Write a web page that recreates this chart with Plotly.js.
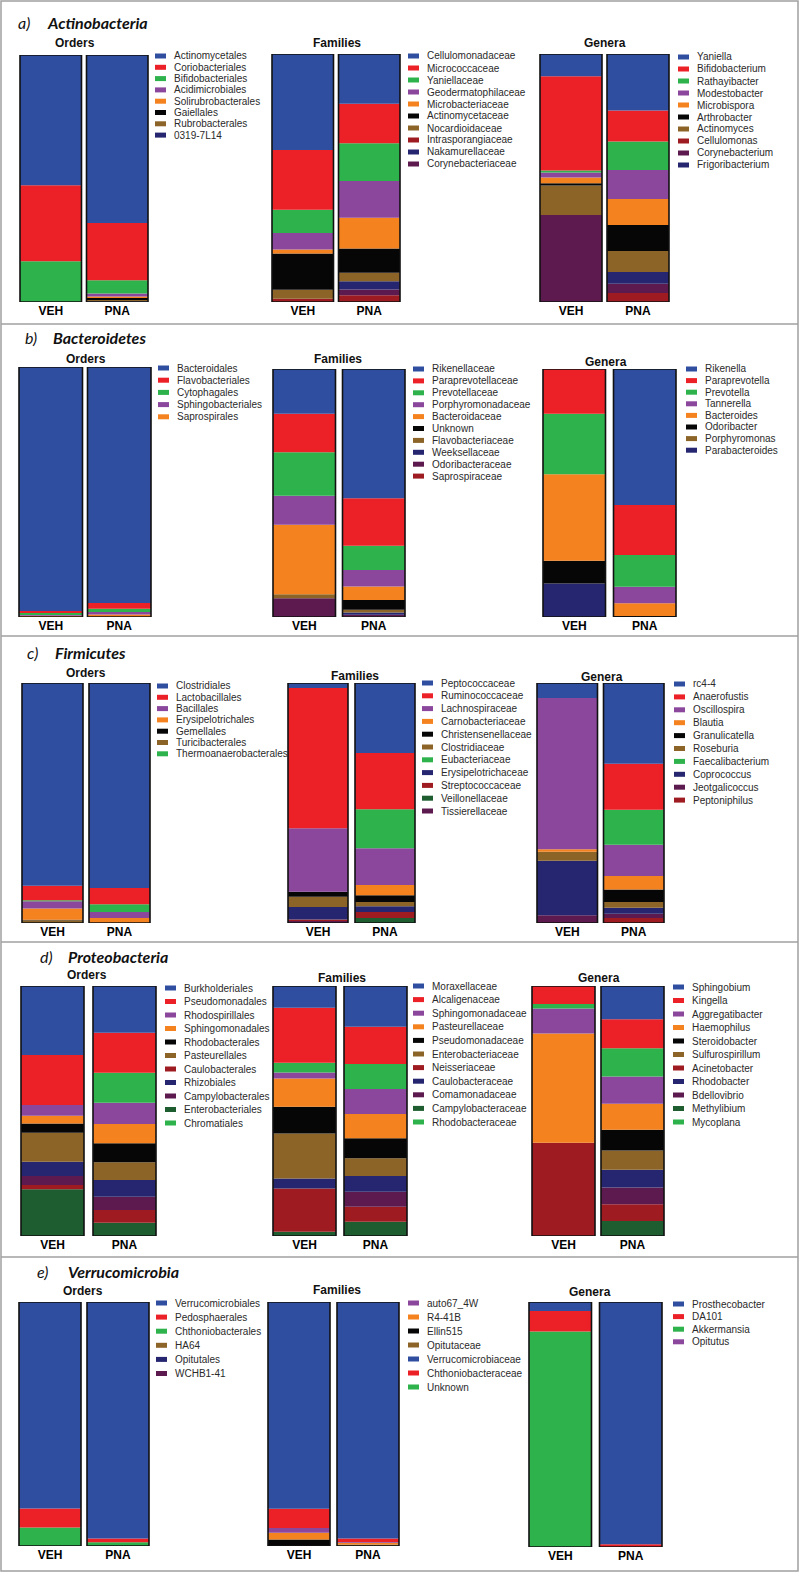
<!DOCTYPE html>
<html><head><meta charset="utf-8">
<script src="https://cdn.plot.ly/plotly-3.0.1.min.js"></script>
<style>html,body{margin:0;padding:0;background:#fff}#chart{width:800px;height:1572px}</style>
</head><body><div id="chart"></div>
<script>
const W = 800, H = 1572;
const groups = ['VEH', 'PNA'];
const BL='#2F4E9F', RD='#EC2027', GR='#2EB24B', PU='#8A479B', OR='#F4821F', BK='#060606',
      BR='#8C6428', DR='#9E1C21', NV='#25266F', PL='#5C1A4E', DG='#1D5D2F';

// ---------- a) Actinobacteria ----------
const aOrdNames = ['Actinomycetales','Coriobacteriales','Bifidobacteriales','Acidimicrobiales','Solirubrobacterales','Gaiellales','Rubrobacterales','0319-7L14'];
const aOrdVEH = [52.7,30.8,16.5,0,0,0,0,0];
const aOrdPNA = [68.0,23.2,5.4,1.2,0.6,0.8,0.5,0.3];
const aOrdColors = [BL,RD,GR,PU,OR,BK,BR,NV];

const aFamNames = ['Cellulomonadaceae','Micrococcaceae','Yaniellaceae','Geodermatophilaceae','Microbacteriaceae','Actinomycetaceae','Nocardioidaceae','Intrasporangiaceae','Nakamurellaceae','Corynebacteriaceae'];
const aFamVEH = [38.7,24.0,9.4,6.7,1.6,14.6,3.6,1.3,0,0];
const aFamPNA = [20.1,15.9,15.2,14.8,12.4,9.8,3.4,2.7,3.4,2.3];
const aFamColors = [BL,RD,GR,PU,OR,BK,BR,DR,NV,PL];
const aFamOrder = [0,1,2,3,4,5,6,8,9,7];

const aGenNames = ['Yaniella','Bifidobacterium','Rathayibacter','Modestobacter','Microbispora','Arthrobacter','Actinomyces','Cellulomonas','Corynebacterium','Frigoribacterium'];
const aGenVEH = [9.0,38.0,0.8,2.0,2.3,0.9,11.9,0,35.1,0];
const aGenPNA = [22.8,12.5,11.5,11.7,10.5,10.4,8.5,3.6,3.8,4.7];
const aGenColors = [BL,RD,GR,PU,OR,BK,BR,DR,PL,NV];
const aGenOrder = [0,1,2,3,4,5,6,9,8,7];

// ---------- b) Bacteroidetes ----------
const bOrdNames = ['Bacteroidales','Flavobacteriales','Cytophagales','Sphingobacteriales','Saprospirales'];
const bOrdVEH = [97.6,0.8,0.8,0.3,0.5];
const bOrdPNA = [94.4,2.3,1.3,1.0,1.0];
const bOrdColors = [BL,RD,GR,PU,OR];

const bFamNames = ['Rikenellaceae','Paraprevotellaceae','Prevotellaceae','Porphyromonadaceae','Bacteroidaceae','Unknown','Flavobacteriaceae','Weeksellaceae','Odoribacteraceae','Saprospiraceae'];
const bFamVEH = [18.0,15.6,17.5,11.7,28.0,0,1.6,0,7.6,0];
const bFamPNA = [52.1,19.2,9.7,6.7,5.4,4.0,1.1,0.9,0.8,0.1];
const bFamColors = [BL,RD,GR,PU,OR,BK,BR,NV,PL,DR];

const bGenNames = ['Rikenella','Paraprevotella','Prevotella','Tannerella','Bacteroides','Odoribacter','Porphyromonas','Parabacteroides'];
const bGenVEH = [0,18.0,24.4,0,34.9,9.2,0,13.5];
const bGenPNA = [54.8,20.2,12.8,6.7,5.1,0.4,0,0];
const bGenColors = [BL,RD,GR,PU,OR,BK,BR,NV];

// ---------- c) Firmicutes ----------
const cOrdNames = ['Clostridiales','Lactobacillales','Bacillales','Erysipelotrichales','Gemellales','Turicibacterales','Thermoanaerobacterales'];
const cOrdVEH = [84.5,6.0,3.1,4.6,0.3,1.1,0.4];
const cOrdPNA = [85.4,6.8,2.5,2.1,0,0,3.2];
const cOrdColors = [BL,RD,PU,OR,BK,BR,GR];
const cOrdOrder = [0,1,6,2,3,4,5];

const cFamNames = ['Peptococcaceae','Ruminococcaceae','Lachnospiraceae','Carnobacteriaceae','Christensenellaceae','Clostridiaceae','Eubacteriaceae','Erysipelotrichaceae','Streptococcaceae','Veillonellaceae','Tissierellaceae'];
const cFamVEH = [2.1,58.5,26.5,0,2.1,4.2,0,5.2,0.7,0,0.8];
const cFamPNA = [29.2,23.4,15.3,4.2,2.8,1.8,16.3,2.4,2.5,2.1,0];
const cFamColors = [BL,RD,PU,OR,BK,BR,GR,NV,DR,DG,PL];
const cFamOrder = [0,1,6,2,3,4,5,7,8,9,10];

const cGenNames = ['rc4-4','Anaerofustis','Oscillospira','Blautia','Granulicatella','Roseburia','Faecalibacterium','Coprococcus','Jeotgalicoccus','Peptoniphilus'];
const cGenVEH = [6.2,0,63.1,1.0,0,3.8,0,22.7,3.2,0];
const cGenPNA = [33.7,19.2,13.0,5.6,5.2,2.4,14.6,2.5,1.8,2.1];
const cGenColors = [BL,RD,PU,OR,BK,BR,GR,NV,PL,DR];
const cGenOrder = [0,1,6,2,3,4,5,7,8,9];

// ---------- d) Proteobacteria ----------
const dOrdNames = ['Burkholderiales','Pseudomonadales','Rhodospirillales','Sphingomonadales','Rhodobacterales','Pasteurellales','Caulobacterales','Rhizobiales','Campylobacterales','Enterobacteriales','Chromatiales'];
const dOrdVEH = [27.6,20.0,4.3,3.1,3.7,11.6,1.7,5.7,3.6,18.7,0];
const dOrdPNA = [18.7,16.0,8.5,7.7,7.6,7.1,5.1,6.7,5.3,5.3,12.0];
const dOrdColors = [BL,RD,PU,OR,BK,BR,DR,NV,PL,DG,GR];
const dOrdOrder = [0,1,10,2,3,4,5,7,8,6,9];

const dFamNames = ['Moraxellaceae','Alcaligenaceae','Sphingomonadaceae','Pasteurellaceae','Pseudomonadaceae','Enterobacteriaceae','Neisseriaceae','Caulobacteraceae','Comamonadaceae','Campylobacteraceae','Rhodobacteraceae'];
const dFamVEH = [8.7,22.0,2.4,11.3,10.7,18.0,17.3,4.0,0,1.7,3.9];
const dFamPNA = [16.3,14.9,10.0,9.7,8.0,7.1,6.0,6.3,6.0,5.7,10.0];
const dFamColors = [BL,RD,PU,OR,BK,BR,DR,NV,PL,DG,GR];
const dFamOrder = [0,1,10,2,3,4,5,7,8,6,9];

const dGenNames = ['Sphingobium','Kingella','Aggregatibacter','Haemophilus','Steroidobacter','Sulfurospirillum','Acinetobacter','Rhodobacter','Bdellovibrio','Methylibium','Mycoplana'];
const dGenVEH = [0,7.2,10.0,43.7,0,0,37.3,0,0,0,1.8];
const dGenPNA = [13.3,11.6,10.9,10.4,8.3,7.7,6.7,7.1,6.7,6.0,11.3];
const dGenColors = [BL,RD,PU,OR,BK,BR,DR,NV,PL,DG,GR];
const dGenOrder = [0,1,10,2,3,4,5,7,8,6,9];

// ---------- e) Verrucomicrobia ----------
const eOrdNames = ['Verrucomicrobiales','Pedosphaerales','Chthoniobacterales','HA64','Opitutales','WCHB1-41'];
const eOrdVEH = [84.6,7.8,7.6,0,0,0];
const eOrdPNA = [96.9,1.6,1.5,0,0,0];
const eOrdColors = [BL,RD,GR,BR,NV,PL];

const eFamNames = ['auto67_4W','R4-41B','Ellin515','Opitutaceae','Verrucomicrobiaceae','Chthoniobacteraceae','Unknown'];
const eFamVEH = [2.0,2.7,2.7,0,84.6,7.9,0];
const eFamPNA = [0.3,0.7,0,0.6,96.9,1.5,0];
const eFamColors = [PU,OR,BK,BR,BL,RD,GR];
const eFamOrder = [4,5,0,1,2,3,6];

const eGenNames = ['Prosthecobacter','DA101','Akkermansia','Opitutus'];
const eGenVEH = [3.7,8.3,88.0,0];
const eGenPNA = [98.9,1.1,0,0];
const eGenColors = [BL,RD,GR,PU];

// ---------- layout (pixel positions) ----------
const PANELS = [
  {tag:'a)', name:'Actinobacteria', tx:18, nx:47, y:22},
  {tag:'b)', name:'Bacteroidetes', tx:25, nx:53, y:337},
  {tag:'c)', name:'Firmicutes', tx:27, nx:55, y:652},
  {tag:'d)', name:'Proteobacteria', tx:40, nx:68, y:956},
  {tag:'e)', name:'Verrucomicrobia', tx:37, nx:68, y:1271}
];
const SEPARATORS = [324, 636, 942, 1257];

const SUBS = [
 {n:aOrdNames,c:aOrdColors,v:aOrdVEH,p:aOrdPNA,o:null,     t:'Orders',  tx:75, ty:43, xL:20, xR:148,g:5, top:55, bot:302, lx:155,ly:56, dy:11.3},
 {n:aFamNames,c:aFamColors,v:aFamVEH,p:aFamPNA,o:aFamOrder,t:'Families',tx:337,ty:43, xL:272,xR:400,g:5, top:54, bot:302, lx:408,ly:56, dy:12},
 {n:aGenNames,c:aGenColors,v:aGenVEH,p:aGenPNA,o:aGenOrder,t:'Genera',  tx:605,ty:43, xL:540,xR:669,g:5, top:54, bot:302, lx:678,ly:57, dy:12},
 {n:bOrdNames,c:bOrdColors,v:bOrdVEH,p:bOrdPNA,o:null,     t:'Orders',  tx:86, ty:359,xL:19, xR:151,g:5, top:367,bot:617, lx:158,ly:368,dy:12.2},
 {n:bFamNames,c:bFamColors,v:bFamVEH,p:bFamPNA,o:null,     t:'Families',tx:338,ty:359,xL:273,xR:405,g:7, top:369,bot:617, lx:413,ly:369,dy:11.9},
 {n:bGenNames,c:bGenColors,v:bGenVEH,p:bGenPNA,o:null,     t:'Genera',  tx:606,ty:362,xL:543,xR:676,g:8, top:369,bot:617, lx:686,ly:369,dy:11.6},
 {n:cOrdNames,c:cOrdColors,v:cOrdVEH,p:cOrdPNA,o:cOrdOrder,t:'Orders',  tx:86, ty:673,xL:22, xR:150,g:6, top:683,bot:923, lx:157,ly:686,dy:11.3},
 {n:cFamNames,c:cFamColors,v:cFamVEH,p:cFamPNA,o:cFamOrder,t:'Families',tx:355,ty:676,xL:288,xR:415,g:7, top:683,bot:923, lx:422,ly:683,dy:12.8},
 {n:cGenNames,c:cGenColors,v:cGenVEH,p:cGenPNA,o:cGenOrder,t:'Genera',  tx:602,ty:677,xL:537,xR:664,g:6, top:683,bot:923, lx:674,ly:684,dy:12.9},
 {n:dOrdNames,c:dOrdColors,v:dOrdVEH,p:dOrdPNA,o:dOrdOrder,t:'Orders',  tx:87, ty:975,xL:21, xR:156,g:9, top:986,bot:1236,lx:165,ly:988,dy:13.5},
 {n:dFamNames,c:dFamColors,v:dFamVEH,p:dFamPNA,o:dFamOrder,t:'Families',tx:342,ty:978,xL:273,xR:407,g:8, top:986,bot:1236,lx:413,ly:986,dy:13.6},
 {n:dGenNames,c:dGenColors,v:dGenVEH,p:dGenPNA,o:dGenOrder,t:'Genera',  tx:599,ty:978,xL:532,xR:664,g:6, top:986,bot:1236,lx:673,ly:987,dy:13.5},
 {n:eOrdNames,c:eOrdColors,v:eOrdVEH,p:eOrdPNA,o:null,     t:'Orders',  tx:83, ty:1291,xL:19, xR:149,g:6, top:1302,bot:1546,lx:156,ly:1303,dy:14.1},
 {n:eFamNames,c:eFamColors,v:eFamVEH,p:eFamPNA,o:eFamOrder,t:'Families',tx:337,ty:1290,xL:268,xR:399,g:7, top:1302,bot:1546,lx:408,ly:1303,dy:14},
 {n:eGenNames,c:eGenColors,v:eGenVEH,p:eGenPNA,o:null,     t:'Genera',  tx:590,ty:1292,xL:529,xR:662,g:8, top:1302,bot:1547,lx:673,ly:1304,dy:12.6}
];

const FONT = 'Arial, "Liberation Sans", sans-serif';
const px = x => x / W, py = y => 1 - y / H;

const traces = [], annotations = [], shapes = [];
const layout = {
  width: W, height: H, margin: {l:0, r:0, t:0, b:0},
  paper_bgcolor: '#fff', plot_bgcolor: 'rgba(0,0,0,0)',
  showlegend: false, barmode: 'overlay', hovermode: false,
  annotations, shapes
};

SUBS.forEach((s, i) => {
  const k = i === 0 ? '' : String(i + 1);
  const bw = (s.xR - s.xL - s.g) / 2, unit = bw + s.g, wid = bw / unit;
  layout['xaxis' + k] = {
    domain: [px(s.xL - s.g / 2), px(s.xR + s.g / 2)], range: [-0.5, 1.5],
    type: 'category', anchor: 'y' + k, showgrid: false, zeroline: false, showline: false,
    ticks: '', ticklen: 0, fixedrange: true,
    tickfont: {family: FONT, size: 12, color: '#000', weight: 'bold'}
  };
  layout['yaxis' + k] = {
    domain: [py(s.bot), py(s.top)], range: [0, 100], anchor: 'x' + k,
    visible: false, fixedrange: true
  };
  const order = s.o || s.n.map((_, j) => j);
  const totV = s.v.reduce((a, b) => a + b, 0), totP = s.p.reduce((a, b) => a + b, 0);
  let baseV = 0, baseP = 0;
  // stack from bottom (reverse of top-down order)
  [...order].reverse().forEach(j => {
    const vv = s.v[j] / totV * 100, pv = s.p[j] / totP * 100;
    traces.push({
      type: 'bar', x: groups, y: [vv, pv], base: [baseV, baseP], width: wid,
      name: s.n[j], xaxis: 'x' + k, yaxis: 'y' + k,
      marker: {color: s.c[j], line: {width: 0}}, hoverinfo: 'skip'
    });
    baseV += vv; baseP += pv;
  });
  traces.push({
    type: 'bar', x: groups, y: [baseV, baseP], base: [0, 0], width: wid,
    xaxis: 'x' + k, yaxis: 'y' + k, hoverinfo: 'skip',
    marker: {color: 'rgba(0,0,0,0)', line: {width: 1.6, color: '#111'}}
  });
  // subplot title
  annotations.push({
    xref: 'paper', yref: 'paper', x: px(s.tx), y: py(s.ty), xanchor: 'center', yanchor: 'middle',
    text: s.t, showarrow: false, font: {family: FONT, size: 12, color: '#111', weight: 'bold'}
  });
  // legend
  s.n.forEach((nm, j) => {
    const yy = s.ly + j * s.dy;
    shapes.push({type: 'rect', xref: 'paper', yref: 'paper',
      x0: px(s.lx), x1: px(s.lx + 11), y0: py(yy + 2.5), y1: py(yy - 2.5),
      fillcolor: s.c[j], line: {width: 0}});
    annotations.push({
      xref: 'paper', yref: 'paper', x: px(s.lx + 17), y: py(yy), xanchor: 'left', yanchor: 'middle',
      text: nm, showarrow: false, font: {family: FONT, size: 10, color: '#2a2a2a'}
    });
  });
});

PANELS.forEach(p => {
  annotations.push({xref:'paper', yref:'paper', x: px(p.tx - 2), y: py(p.y), xanchor:'left', yanchor:'middle',
    text: '<i>' + p.tag + '</i>', showarrow:false, font:{family:'Lato, "Open Sans", sans-serif', size:16, color:'#111'}});
  annotations.push({xref:'paper', yref:'paper', x: px(p.nx - 2), y: py(p.y), xanchor:'left', yanchor:'middle',
    text: '<b><i>' + p.name + '</i></b>', showarrow:false, font:{family:'Lato, "Open Sans", sans-serif', size:16, color:'#111'}});
});

// panel frame
shapes.push({type:'rect', xref:'paper', yref:'paper', x0: px(1), x1: px(798), y0: py(1571), y1: py(1),
  line:{color:'#a0a0a0', width:1.5}, fillcolor:'rgba(0,0,0,0)'});
SEPARATORS.forEach(y => shapes.push({type:'line', xref:'paper', yref:'paper', x0: px(1), x1: px(798),
  y0: py(y), y1: py(y), line:{color:'#a0a0a0', width:1.5}}));

Plotly.newPlot('chart', traces, layout, {staticPlot: true, displayModeBar: false});
</script>
</body></html>
